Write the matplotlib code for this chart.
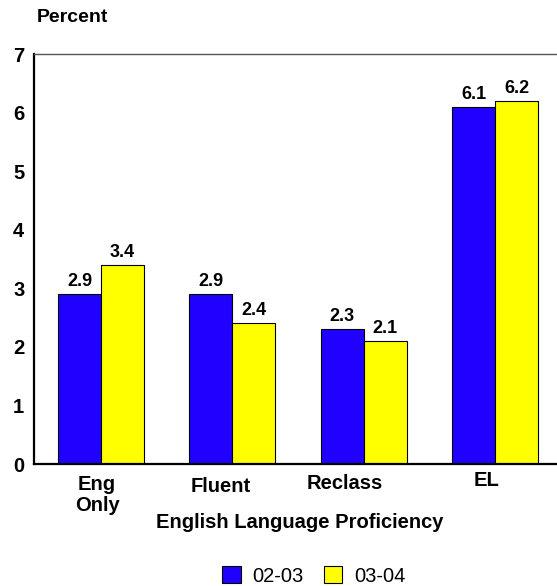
import matplotlib
matplotlib.use("Agg")
import matplotlib.pyplot as plt
import numpy as np
from matplotlib.transforms import ScaledTranslation
from matplotlib.patches import Patch

categories = ["Eng\nOnly", "Fluent", "Reclass", "EL"]
series_names = ["02-03", "03-04"]
values_0203 = [2.9, 2.9, 2.3, 6.1]
values_0304 = [3.4, 2.4, 2.1, 6.2]
yticks = [0, 1, 2, 3, 4, 5, 6, 7]

plt.rcParams['font.family'] = ['Liberation Sans', 'DejaVu Sans']

fig = plt.figure(figsize=(5.57, 5.86), dpi=100)
ax = fig.add_axes([34/557, (586-464)/586, 1 - 34/557, (464-54)/586])

x = np.arange(len(categories))
w = 0.327
blue = '#2000FF'
yellow = '#FFFF00'
b1 = ax.bar(x - w/2, values_0203, w, color=blue, edgecolor='black', linewidth=0.8)
b2 = ax.bar(x + w/2, values_0304, w, color=yellow, edgecolor='black', linewidth=0.8)

for bars, vals in ((b1, values_0203), (b2, values_0304)):
    for r, v in zip(bars, vals):
        ax.annotate(f"{v:.1f}", (r.get_x() + r.get_width()/2, v),
                    xytext=(0, 3), textcoords='offset points',
                    ha='center', va='bottom', fontsize=13, fontweight='bold')

ax.set_xlim(-0.51, 3.47)
ax.set_ylim(0, 7)
ax.set_yticks(yticks)
ax.set_yticklabels([str(t) for t in yticks], fontsize=14.5, fontweight='bold')
ax.set_xticks(x)
ax.set_xticklabels(categories, fontsize=14.5, fontweight='bold', linespacing=1.15)
ax.tick_params(axis='both', length=0)
ax.tick_params(axis='y', pad=7)
ax.tick_params(axis='x', pad=8)

dx = [-4, -12, -19, -9]
dy = [0, -2, 1, 4]
for lab, ddx, ddy in zip(ax.get_xticklabels(), dx, dy):
    lab.set_transform(lab.get_transform() + ScaledTranslation(ddx/100, ddy/100, fig.dpi_scale_trans))

for s in ['left', 'bottom']:
    ax.spines[s].set_linewidth(1.6)
    ax.spines[s].set_color('black')
ax.spines['top'].set_linewidth(1.0)
ax.spines['top'].set_color('#555555')
ax.spines['right'].set_visible(False)

fig.text(300/557, 1 - 523/586, "English Language Proficiency", ha='center', va='center',
         fontsize=14.5, fontweight='bold')
fig.text(37/557, 1 - 18/586, "Percent", ha='left', va='center', fontsize=14, fontweight='bold')

handles = [Patch(facecolor=blue, edgecolor='black', linewidth=0.8),
           Patch(facecolor=yellow, edgecolor='black', linewidth=0.8)]
fig.legend(handles, series_names, loc='center', bbox_to_anchor=(314/557, 1 - 576/586),
           ncol=2, frameon=False, fontsize=14.5, handlelength=0.9, handleheight=0.9,
           handletextpad=0.6, columnspacing=1.0, borderpad=0)

fig.savefig("out.png", dpi=100)
